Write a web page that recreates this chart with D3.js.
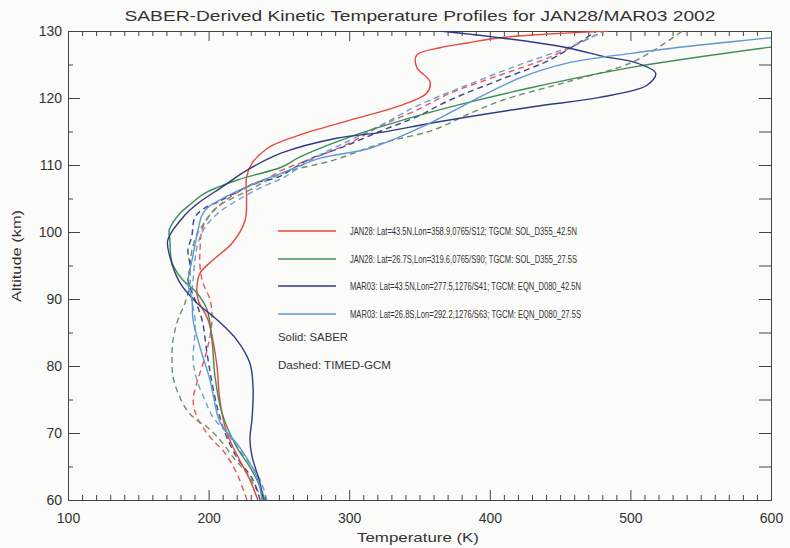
<!DOCTYPE html>
<html>
<head>
<meta charset="utf-8">
<script src="https://cdn.jsdelivr.net/npm/d3@7"></script>
<style>
  body { margin: 0; background: #fbfbfa; }
  svg { display: block; }
  text { font-family: "Liberation Sans", Arial, sans-serif; fill: #333; }
  .axis path, .axis line { stroke: #444; }
</style>
</head>
<body>
<svg id="chart" width="790" height="548"></svg>
<script>
// [altitude km, temperature K]
const janN_saber = [[60,235],[63,229.4],[66,222],[70,213],[74.9,208],[79.9,206],[83.9,203],[86.9,199.6],[89.9,192.5],[91.8,191.7],[93.9,194],[95.8,203],[98.4,217],[101.8,226],[104.8,227],[108.2,227],[110.3,231],[112.2,240],[113,246],[114.5,265],[116.7,300.6],[118.7,334],[120.7,355],[122.4,357.5],[124.6,348],[126.4,348],[127.5,364.6],[128.2,383.8],[129,407],[130,484]];
const janS_saber = [[60,240],[62,236.6],[64.9,229.4],[67.9,220],[73,209.5],[78.4,204.6],[83.9,202.4],[88.4,198.9],[90.9,191.7],[92.8,181.8],[95.4,174],[98.8,172.5],[100.3,172],[102.8,179.7],[104.3,188],[105.8,197.4],[107.8,221],[109.7,252],[111.2,265],[114.2,300.6],[116.7,338],[119.3,384],[121.6,430.7],[124.6,501.8],[127.6,600]];
const marN_saber = [[60,238.7],[62.5,236.6],[66.4,231],[69,229.4],[72.4,231],[76.9,231.6],[80.4,229.4],[83.9,220],[86.9,206],[89.4,191.7],[92.4,179.7],[96.3,172.5],[98.8,171],[102.5,183],[104.3,192.5],[106.7,209.5],[109.3,228],[111.8,252],[114,291],[114.9,324],[116.3,359.6],[118.7,430.7],[120.1,478],[121.9,511.8],[123.7,518],[125.4,502],[126.1,483],[127.5,455],[129,407],[130,364.6]];
const marS_saber = [[60,238],[63.4,234.4],[67.9,222],[70.9,210],[72.4,206.7],[77.9,201],[82.8,193.9],[86.9,188.9],[89.9,188.2],[92.4,185.3],[95.8,188.2],[100.3,192.5],[102.5,195.3],[103.7,199.6],[105.2,211.7],[107.3,233],[108.8,252],[111,279],[112.5,314.8],[116,355],[119.4,386],[123,421.5],[125.2,455],[126.7,502],[127.9,549.5],[129,600]];

const janN_tgcm = [[60,227.3],[64,220],[67,211.7],[69.4,201],[72.4,191.7],[74.9,189],[77.5,191.7],[79.9,195.3],[82.4,198.9],[86.9,202.4],[89.9,201],[92.4,196],[94.8,193.9],[97.3,193.9],[100.3,195.3],[102.2,199.6],[104.3,209.5],[106.3,223.8],[107.8,240],[109.3,253],[111.2,277],[113.3,300.6],[116,324],[118.2,348],[120.7,371.7],[123.4,407],[126.1,442.8],[130,481]];
const janS_tgcm = [[60,240],[61.5,234.4],[64,227.3],[66.4,217.4],[69,208],[70.9,198.9],[71.9,191.7],[73.4,184.6],[76,178.2],[78.4,174.7],[80.9,174],[83.9,174.7],[86.9,178.2],[89.4,183.2],[92.4,186.8],[94.8,186.8],[97.3,188.2],[99.6,191.7],[101.5,197.4],[103.7,206],[106.3,229.4],[108.8,253],[110.7,288.5],[113.3,324],[115.2,359.6],[117.5,383.8],[119.7,409.4],[122.4,455],[125.4,502],[130,537]];
const marN_tgcm = [[60,236.6],[63,231.6],[66.4,220],[70,211.7],[73.4,206.7],[77.5,202.4],[81.9,198.9],[86.9,195.3],[89.9,190.3],[92.8,185.3],[94.8,186.8],[97.3,185.3],[99.3,188],[102.2,190.3],[103.6,197.4],[104.5,206.7],[105.8,218.8],[107.3,233],[108.2,249.4],[110.7,270],[112.7,295.6],[115.2,324],[117.2,348],[119.7,371.7],[122.7,407],[125.7,442.8],[130,476]];
const marS_tgcm = [[60,241.5],[63,236.6],[67.5,222],[70,213],[72.4,203],[74.9,197.4],[77.9,191.7],[80.9,189],[84.9,190.3],[87.3,190.3],[89.9,188],[92.8,189],[95.8,190.3],[98.4,192.5],[100.7,197.4],[102.8,206.7],[104.8,221],[106.7,238],[108.2,254],[110.7,272],[113.7,300.6],[116.1,324],[118.8,348],[121.5,378.8],[124.8,419],[127.5,455],[130,482]];

const legendLabels = [
  "JAN28: Lat=43.5N,Lon=358.9,0765/S12; TGCM: SOL_D355_42.5N",
  "JAN28: Lat=26.7S,Lon=319.6,0765/S90; TGCM: SOL_D355_27.5S",
  "MAR03: Lat=43.5N,Lon=277.5,1276/S41; TGCM: EQN_D080_42.5N",
  "MAR03: Lat=26.8S,Lon=292.2,1276/S63; TGCM: EQN_D080_27.5S"
];
const xTicks = [100, 200, 300, 400, 500, 600];
const yTicks = [60, 70, 80, 90, 100, 110, 120, 130];

const colors = ["#e4473f", "#3f8d55", "#2f3a85", "#5e97d6"];
const dashColors = ["#e35a5e", "#6d8f70", "#3a4790", "#6a9fd8"];

const svg = d3.select("#chart");
const margin = { top: 31, right: 19, bottom: 48, left: 68 };
const W = 790, H = 548;

const x = d3.scaleLinear().domain([100, 600]).range([margin.left, W - margin.right]);
const y = d3.scaleLinear().domain([60, 130]).range([H - margin.bottom, margin.top]);

svg.append("defs").append("clipPath").attr("id", "plot")
  .append("rect")
  .attr("x", x(100)).attr("y", y(130))
  .attr("width", x(600) - x(100)).attr("height", y(60) - y(130));

// axes: majors with labels, minors without, mirrored on top/right
const minorX = d3.range(100, 601, 10).filter(v => v % 100);
const minorY = d3.range(60, 131, 5).filter(v => v % 10);

svg.append("g").attr("class", "axis").attr("transform", `translate(0,${y(60)})`)
  .call(d3.axisBottom(x).tickValues(xTicks).tickSize(-10).tickPadding(20).tickFormat(d3.format("d")))
  .call(g => g.selectAll("text").attr("font-size", 14).attr("dy", "0.2em"));
svg.append("g").attr("class", "axis").attr("transform", `translate(0,${y(60)})`)
  .call(d3.axisBottom(x).tickValues(minorX).tickSize(-5).tickFormat(""));
svg.append("g").attr("class", "axis").attr("transform", `translate(0,${y(130)})`)
  .call(d3.axisTop(x).tickValues(xTicks).tickSize(-10).tickFormat(""));
svg.append("g").attr("class", "axis").attr("transform", `translate(0,${y(130)})`)
  .call(d3.axisTop(x).tickValues(minorX).tickSize(-5).tickFormat(""));

svg.append("g").attr("class", "axis").attr("transform", `translate(${x(100)},0)`)
  .call(d3.axisLeft(y).tickValues(yTicks).tickSize(-12).tickPadding(6).tickFormat(d3.format("d")))
  .call(g => g.selectAll("text").attr("font-size", 14).attr("x", -6));
svg.append("g").attr("class", "axis").attr("transform", `translate(${x(100)},0)`)
  .call(d3.axisLeft(y).tickValues(minorY).tickSize(-5).tickFormat(""));
svg.append("g").attr("class", "axis").attr("transform", `translate(${x(600)},0)`)
  .call(d3.axisRight(y).tickValues(yTicks.concat(minorY)).tickSize(-12).tickFormat(""));

svg.selectAll(".axis .domain").attr("stroke", "#444");

// profiles
const line = d3.line()
  .x(d => x(d[1]))
  .y(d => y(d[0]))
  .curve(d3.curveCatmullRom.alpha(0.5));

const plot = svg.append("g").attr("clip-path", "url(#plot)");

[janN_tgcm, janS_tgcm, marN_tgcm, marS_tgcm].forEach((s, i) => {
  plot.append("path")
    .attr("d", line(s))
    .attr("fill", "none")
    .attr("stroke", dashColors[i])
    .attr("stroke-width", 1.4)
    .attr("stroke-dasharray", "6,4");
});

[janN_saber, janS_saber, marN_saber, marS_saber].forEach((s, i) => {
  plot.append("path")
    .attr("d", line(s))
    .attr("fill", "none")
    .attr("stroke", colors[i])
    .attr("stroke-width", 1.4);
});

// legend
const legend = svg.append("g");
const legY = [231, 259, 286, 314];
const legLen = [227, 227, 231, 231];
legendLabels.forEach((t, i) => {
  legend.append("line")
    .attr("x1", 278).attr("x2", 336)
    .attr("y1", legY[i]).attr("y2", legY[i])
    .attr("stroke", colors[i]).attr("stroke-width", 1.4);
  legend.append("text")
    .attr("x", 350).attr("y", legY[i] + 4)
    .attr("font-size", 11.5)
    .attr("textLength", legLen[i]).attr("lengthAdjust", "spacingAndGlyphs")
    .text(t);
});
legend.append("text").attr("x", 278).attr("y", 341).attr("font-size", 11.5)
  .attr("textLength", 70).attr("lengthAdjust", "spacingAndGlyphs").text("Solid: SABER");
legend.append("text").attr("x", 278).attr("y", 369).attr("font-size", 11.5)
  .attr("textLength", 113).attr("lengthAdjust", "spacingAndGlyphs").text("Dashed: TIMED-GCM");

// titles
svg.append("text")
  .attr("x", 420).attr("y", 21)
  .attr("text-anchor", "middle").attr("font-size", 15)
  .attr("textLength", 591).attr("lengthAdjust", "spacingAndGlyphs")
  .text("SABER-Derived Kinetic Temperature Profiles for JAN28/MAR03 2002");

svg.append("text")
  .attr("x", 418).attr("y", 542)
  .attr("text-anchor", "middle").attr("font-size", 13)
  .attr("textLength", 122).attr("lengthAdjust", "spacingAndGlyphs")
  .text("Temperature (K)");

svg.append("text")
  .attr("transform", "translate(21,256) rotate(-90)")
  .attr("text-anchor", "middle").attr("font-size", 13)
  .attr("textLength", 92).attr("lengthAdjust", "spacingAndGlyphs")
  .text("Altitude (km)");
</script>
</body>
</html>
